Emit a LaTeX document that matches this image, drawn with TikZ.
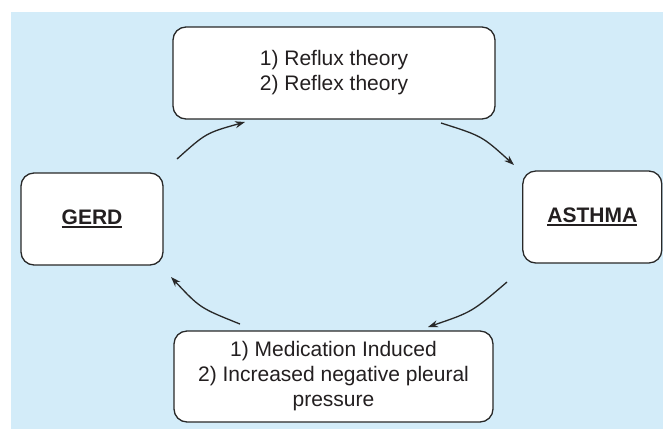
\documentclass[tikz,border=0pt]{standalone}
\usepackage{fontspec}
\setmainfont{Liberation Sans}
\usetikzlibrary{arrows.meta}
\definecolor{bgblue}{RGB}{211,236,249}
\definecolor{edge}{RGB}{40,40,40}
\definecolor{ink}{RGB}{35,31,32}
\newcommand\ulbold[1]{\setbox0\hbox{\bfseries #1}\rlap{\rule[-4pt]{\wd0}{2pt}}\box0}
\begin{document}
\begin{tikzpicture}[x=1pt,y=-1pt,
  box/.style={draw=edge,line width=1.3pt,fill=white,rounded corners=13pt,
    align=center,inner sep=0pt,font=\fontsize{21}{25}\selectfont,text=ink},
  conn/.style={draw=edge,line width=1.3pt,-{Stealth[length=10pt,width=7pt]}}]
\useasboundingbox (0,0) rectangle (663,429);
\fill[bgblue] (11,12) rectangle (663,429);
\node[box,minimum width=322pt,minimum height=92pt] (top) at (334,73) {1) Reflux theory\\2) Reflex theory};
\node[box,minimum width=142pt,minimum height=92pt] (gerd) at (92,219) {\ulbold{GERD}};
\node[box,minimum width=139pt,minimum height=92pt] (asthma) at (592.3,217) {\ulbold{ASTHMA}};
\node[box,minimum width=319pt,minimum height=91pt] (bot) at (333.5,376.5) {1) Medication Induced\\2) Increased negative pleural\\pressure};
\coordinate (s1) at (177,159); \coordinate (e1) at (245,122);
\coordinate (s2) at (441,123); \coordinate (e2) at (514,165);
\coordinate (s3) at (507,282); \coordinate (e3) at (428,327);
\coordinate (s4) at (240,324); \coordinate (e4) at (171,277);
\draw[conn] (s1) .. controls (206,133) .. (e1);
\draw[conn] (s2) .. controls (482,136) .. (e2);
\draw[conn] (s3) .. controls (472,312) .. (e3);
\draw[conn] (s4) .. controls (200,308) .. (e4);
\end{tikzpicture}
\end{document}
